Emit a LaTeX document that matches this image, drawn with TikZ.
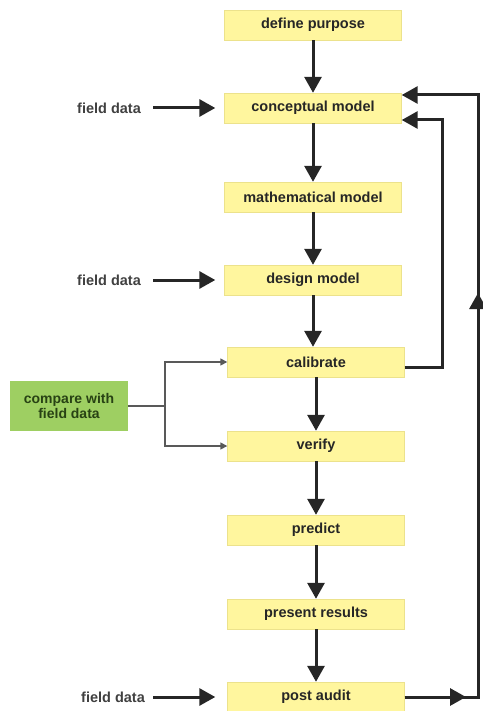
\documentclass[tikz,border=0pt]{standalone}
\usepackage{fontspec}
\setmainfont{Liberation Sans}
\usetikzlibrary{arrows.meta}
\definecolor{stepyellow}{RGB}{255,246,158}
\definecolor{stepedge}{RGB}{236,226,140}
\definecolor{cmpgreen}{RGB}{158,207,98}
\definecolor{cmptext}{RGB}{40,66,20}
\begin{document}
\begin{tikzpicture}[x=1pt,y=-1pt,
    stage/.style={draw=stepedge,fill=stepyellow,minimum width=177pt,minimum height=30pt,
      inner sep=0pt,font=\fontsize{14.5}{16}\selectfont\bfseries,text=black!85},
    source/.style={font=\fontsize{14.5}{16}\selectfont\bfseries,text=black!75,inner sep=0pt},
    flow/.style={line width=3pt,draw=black!85,-{Triangle[length=16pt,width=17pt]}},
    link/.style={line width=1.5pt,draw=black!65,-{Triangle[length=7pt,width=7pt]}}]
    \useasboundingbox (0,0) rectangle (482,711);
    % main chain
    \node[stage] (purpose) at (313,25) {define purpose};
    \node[stage] (concept) at (313,108) {conceptual model};
    \node[stage] (math) at (313,197) {mathematical model};
    \node[stage] (design) at (313,280) {design model};
    \node[stage] (calib) at (316,362) {calibrate};
    \node[stage] (verify) at (316,446) {verify};
    \node[stage] (predict) at (316,530) {predict};
    \node[stage] (present) at (316,614) {present results};
    \node[stage] (audit) at (316,697) {post audit};
    \draw[flow] (purpose) -- (concept);
    \draw[flow] (concept) -- (math);
    \draw[flow] (math) -- (design);
    \draw[flow] (design.south) -- (design.south |- calib.north);
    \draw[flow] (calib) -- (verify);
    \draw[flow] (verify) -- (predict);
    \draw[flow] (predict) -- (present);
    \draw[flow] (present) -- (audit);
    % field data inputs
    \node[source] (fd1) at (109,108) {field data};
    \node[source] (fd2) at (109,280) {field data};
    \node[source] (fd3) at (113,697) {field data};
    \draw[flow] (fd1.east) ++(12,0) coordinate (fd1s) (fd1s) -- ([xshift=-9pt]concept.west);
    \draw[flow] (fd2.east) ++(12,0) coordinate (fd2s) (fd2s) -- ([xshift=-9pt]design.west);
    \draw[flow] (fd3.east) ++(8,0) coordinate (fd3s) (fd3s) -- ([xshift=-12pt]audit.west);
    % comparison
    \node[fill=cmpgreen,minimum width=118pt,minimum height=50pt,inner sep=0pt,align=center,
      font=\fontsize{14}{15}\selectfont\bfseries,text=cmptext] (compare) at (69,406) {compare with\\field data};
    \coordinate (split) at (165,406);
    \draw[line width=1.5pt,draw=black!65] (compare.east) -- (split);
    \draw[link] (split) |- (calib.west);
    \draw[link] (split) |- (verify.west);
    % feedback loops
    \coordinate (inner) at (442,367);
    \draw[flow] ([yshift=-5pt]calib.east) -- (inner) |- ([yshift=-12pt]concept.east);
    \coordinate (outer) at (478,697);
    \coordinate (mid) at (478,293);
    \draw[flow] (audit.east) -- (outer) |- ([yshift=13pt]concept.east);
    \draw[flow] (audit.east) -- (466,697);
    \draw[flow] (478,312) -- (mid);
\end{tikzpicture}
\end{document}
